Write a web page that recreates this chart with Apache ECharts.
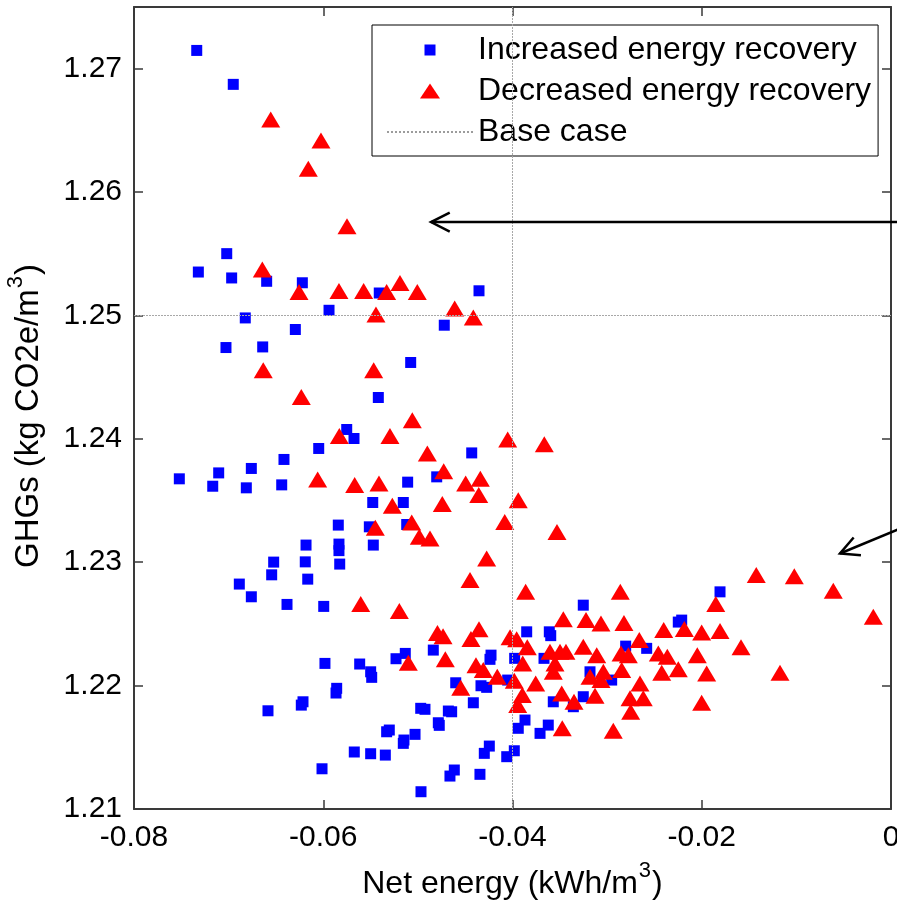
<!DOCTYPE html>
<html>
<head>
<meta charset="utf-8">
<script src="https://cdn.jsdelivr.net/npm/echarts@6/dist/echarts.min.js"></script>
<style>
  html, body { margin: 0; padding: 0; background: #fff; }
  #chart { width: 897px; height: 900px; }
</style>
</head>
<body>
<div id="chart"></div>
<script>
// Net energy (kWh/m3) vs GHGs (kg CO2e/m3) for each sensitivity run
const increasedRecovery = [
  [-0.07337,1.27148],[-0.06951,1.26873],[-0.07020,1.25501],[-0.07320,1.25352],[-0.06968,1.25304],
  [-0.06598,1.25277],[-0.06221,1.25265],[-0.05408,1.25182],[-0.04354,1.25200],[-0.05939,1.25042],
  [-0.06824,1.24980],[-0.06295,1.24886],[-0.04721,1.24921],[-0.07028,1.24740],[-0.06640,1.24745],
  [-0.05076,1.24619],[-0.05418,1.24335],[-0.05752,1.24076],[-0.05675,1.24003],[-0.06048,1.23922],
  [-0.04431,1.23886],[-0.06415,1.23833],[-0.07521,1.23676],[-0.07105,1.23724],[-0.06760,1.23760],
  [-0.07168,1.23616],[-0.06813,1.23603],[-0.06439,1.23627],[-0.05108,1.23649],[-0.04801,1.23692],
  [-0.05477,1.23484],[-0.05154,1.23484],[-0.05841,1.23301],[-0.05513,1.23287],[-0.05118,1.23306],
  [-0.06182,1.23139],[-0.05834,1.23147],[-0.05834,1.23094],[-0.05471,1.23139],[-0.06524,1.23001],
  [-0.06190,1.23003],[-0.05826,1.22985],[-0.06545,1.22898],[-0.06164,1.22863],[-0.06887,1.22823],
  [-0.06760,1.22720],[-0.06383,1.22658],[-0.05995,1.22642],[-0.05982,1.22180],[-0.05615,1.22175],
  [-0.05499,1.22112],[-0.05488,1.22067],[-0.05231,1.22218],[-0.05133,1.22261],[-0.04837,1.22288],
  [-0.05858,1.21978],[-0.05865,1.21940],[-0.06214,1.21869],[-0.06232,1.21842],[-0.06584,1.21796],
  [-0.04970,1.21816],[-0.04925,1.21808],[-0.05302,1.21640],[-0.05330,1.21626],[-0.05030,1.21605],
  [-0.05147,1.21559],[-0.05154,1.21532],[-0.05672,1.21462],[-0.05499,1.21448],[-0.05344,1.21437],
  [-0.06013,1.21326],[-0.04967,1.21140],[-0.03252,1.22652],[-0.01807,1.22760],[-0.02212,1.22531],
  [-0.02248,1.22515],[-0.03850,1.22436],[-0.03611,1.22436],[-0.03596,1.22405],[-0.04227,1.22247],
  [-0.04238,1.22213],[-0.03977,1.22221],[-0.03667,1.22221],[-0.02804,1.22320],[-0.02582,1.22302],
  [-0.04600,1.22023],[-0.04333,1.21999],[-0.04273,1.21986],[-0.04051,1.22045],[-0.03181,1.22112],
  [-0.02952,1.22045],[-0.03569,1.21869],[-0.03252,1.21910],[-0.03357,1.21829],[-0.04414,1.21861],
  [-0.04678,1.21794],[-0.04643,1.21788],[-0.04784,1.21699],[-0.04774,1.21678],[-0.03868,1.21721],
  [-0.03939,1.21654],[-0.03622,1.21680],[-0.03709,1.21613],[-0.04245,1.21510],[-0.04298,1.21451],
  [-0.03981,1.21472],[-0.04061,1.21424],[-0.04615,1.21316],[-0.04661,1.21267],[-0.04344,1.21281]
];

const decreasedRecovery = [
  [-0.06555,1.26589],[-0.06024,1.26419],[-0.06158,1.26190],[-0.05749,1.25723],[-0.06644,1.25372],
  [-0.06256,1.25190],[-0.05834,1.25199],[-0.05573,1.25199],[-0.05330,1.25190],[-0.05189,1.25263],
  [-0.05006,1.25190],[-0.05443,1.25007],[-0.04611,1.25056],[-0.04414,1.24983],[-0.06634,1.24556],
  [-0.05467,1.24556],[-0.06232,1.24340],[-0.05059,1.24151],[-0.05830,1.24024],[-0.05295,1.24024],
  [-0.04051,1.23995],[-0.03664,1.23957],[-0.04900,1.23881],[-0.04727,1.23738],[-0.04340,1.23676],
  [-0.04495,1.23638],[-0.06059,1.23671],[-0.05668,1.23625],[-0.05411,1.23638],[-0.04357,1.23544],
  [-0.03939,1.23503],[-0.04742,1.23471],[-0.05270,1.23457],[-0.05450,1.23279],[-0.05065,1.23322],
  [-0.04082,1.23327],[-0.03530,1.23246],[-0.04985,1.23206],[-0.04872,1.23193],[-0.04273,1.23031],
  [-0.04449,1.22855],[-0.05604,1.22661],[-0.05196,1.22604],[-0.03861,1.22760],[-0.02861,1.22760],
  [-0.01424,1.22896],[-0.01022,1.22887],[-0.00610,1.22768],[-0.00187,1.22558],[-0.01852,1.22661],
  [-0.03463,1.22537],[-0.03223,1.22531],[-0.03065,1.22504],[-0.02822,1.22507],[-0.02402,1.22450],
  [-0.02184,1.22458],[-0.02001,1.22431],[-0.01807,1.22442],[-0.04793,1.22426],[-0.04734,1.22401],
  [-0.04354,1.22456],[-0.04439,1.22377],[-0.04026,1.22391],[-0.03956,1.22375],[-0.03844,1.22310],
  [-0.04710,1.22213],[-0.03892,1.22180],[-0.03604,1.22274],[-0.03498,1.22274],[-0.03435,1.22274],
  [-0.03252,1.22315],[-0.03110,1.22247],[-0.02660,1.22369],[-0.02853,1.22261],[-0.02776,1.22247],
  [-0.02459,1.22261],[-0.02364,1.22234],[-0.02047,1.22247],[-0.01585,1.22310],[-0.04386,1.22166],
  [-0.04309,1.22126],[-0.03551,1.22180],[-0.03569,1.22112],[-0.04161,1.22072],[-0.03981,1.22039],
  [-0.03755,1.22018],[-0.04547,1.21983],[-0.03181,1.22072],[-0.03040,1.22112],[-0.03065,1.22045],
  [-0.02846,1.22126],[-0.02653,1.22018],[-0.02423,1.22104],[-0.02248,1.22132],[-0.01948,1.22099],
  [-0.01173,1.22104],[-0.02001,1.21861],[-0.03480,1.21937],[-0.03350,1.21869],[-0.03128,1.21918],
  [-0.03896,1.21923],[-0.03945,1.21842],[-0.02758,1.21897],[-0.02618,1.21897],[-0.02751,1.21788],
  [-0.02935,1.21634],[-0.03474,1.21654],[-0.05101,1.22185]
];

// Base case reference values
const baseCaseX = [-0.0435];
const baseCaseY = [1.2520];

// Axis ranges and ticks
const xRange = [-0.08, 0];
const xStep = 0.02;
const yRange = [1.21, 1.275];
const yStep = 0.01;

// Callout arrows: [start, tip] in data units (start lies past the right edge)
const arrowTop = [[0.0025, 1.25757], [-0.04861, 1.25757]];
const arrowRight = [[0.0020, 1.23305], [-0.00539, 1.23071]];

const FONT = '"Liberation Sans", Arial, Helvetica, sans-serif';
const AXIS_COLOR = '#3a3a3a';

// small square inside a padded box so the legend swatch stays small
const LEGEND_SQUARE = 'path://M-2,-2L-2,-2ZM0,0L11,0L11,11L0,11ZM13,13L13,13Z';
const LEGEND_TRIANGLE = 'path://M10,0L20,15L0,15Z';

const chart = echarts.init(document.getElementById('chart'), null, { renderer: 'canvas' });

function xFmt(v) {
  if (Math.abs(v) < 1e-9) return '0';
  return v.toFixed(2);
}

const baseAxis = {
  axisLine: { show: true, onZero: false, lineStyle: { color: AXIS_COLOR, width: 2 } },
  axisTick: { show: true, inside: true, length: 9, lineStyle: { color: AXIS_COLOR, width: 1.5 } },
  splitLine: { show: false }
};

// superscript exponent for the unit labels
const supStyle = { fontFamily: FONT, fontSize: 22, lineHeight: 22, color: '#000', verticalAlign: 'top', padding: [0, 1, 0, 1] };

const option = {
  backgroundColor: '#ffffff',
  animation: false,
  textStyle: { fontFamily: FONT },
  grid: { left: 134, right: 6, top: 7, bottom: 91, containLabel: false, outerBoundsMode: 'none' },
  legend: {
    orient: 'vertical',
    left: 372,
    top: 25,
    padding: [9, 7, 8, 14],
    itemWidth: 86,
    itemHeight: 15,
    itemGap: 9,
    backgroundColor: '#ffffff',
    borderColor: '#000000',
    borderWidth: 1,
    borderRadius: 0,
    textStyle: { fontFamily: FONT, fontSize: 32, color: '#000' },
    data: [
      { name: 'Increased energy recovery', icon: LEGEND_SQUARE },
      { name: 'Decreased energy recovery', icon: LEGEND_TRIANGLE },
      { name: 'Base case', itemStyle: { color: 'rgba(0,0,0,0)', borderWidth: 0 } }
    ],
    selectedMode: false
  },
  xAxis: [
    Object.assign({}, baseAxis, {
      type: 'value', position: 'bottom',
      min: xRange[0], max: xRange[1], interval: xStep,
      name: 'Net energy (kWh/m{sup|3})',
      nameLocation: 'middle', nameGap: 51,
      nameTextStyle: { fontFamily: FONT, fontSize: 32, lineHeight: 48, color: '#000', rich: { sup: supStyle } },
      axisLabel: { show: true, margin: 14, fontFamily: FONT, fontSize: 30, color: '#000', formatter: xFmt }
    }),
    Object.assign({}, baseAxis, {
      type: 'value', position: 'top',
      min: xRange[0], max: xRange[1], interval: xStep,
      axisLabel: { show: false }
    })
  ],
  yAxis: [
    Object.assign({}, baseAxis, {
      type: 'value', position: 'left',
      min: yRange[0], max: yRange[1], interval: yStep,
      name: 'GHGs (kg CO2e/m{sup|3})',
      nameLocation: 'middle', nameGap: 74,
      nameTextStyle: { fontFamily: FONT, fontSize: 33, lineHeight: 48, color: '#000', padding: [0, 16, 0, 0], rich: { sup: supStyle } },
      axisLabel: {
        show: true, margin: 12, fontFamily: FONT, fontSize: 30, color: '#000',
        showMaxLabel: false,
        formatter: function (v) { return v.toFixed(2); }
      }
    }),
    Object.assign({}, baseAxis, {
      type: 'value', position: 'right',
      min: yRange[0], max: yRange[1], interval: yStep,
      axisLabel: { show: false }
    })
  ],
  series: [
    {
      name: 'Base case',
      type: 'line',
      xAxisIndex: 0, yAxisIndex: 0,
      data: [],
      symbol: 'none',
      z: 1,
      lineStyle: { color: '#9c9c9c', width: 1, type: 'dotted' },
      itemStyle: { color: '#9c9c9c' },
      markLine: {
        silent: true,
        symbol: ['none', 'none'],
        label: { show: false },
        lineStyle: { color: '#a8a8a8', width: 1, type: [2, 1] },
        data: [
          { xAxis: baseCaseX[0] },
          { yAxis: baseCaseY[0] }
        ]
      }
    },
    {
      name: 'Increased energy recovery',
      type: 'scatter',
      xAxisIndex: 0, yAxisIndex: 0,
      symbol: 'rect',
      symbolSize: 11,
      z: 3,
      itemStyle: { color: '#0000ff', opacity: 1 },
      data: increasedRecovery
    },
    {
      name: 'Decreased energy recovery',
      type: 'scatter',
      xAxisIndex: 0, yAxisIndex: 0,
      symbol: 'triangle',
      symbolSize: [19, 16],
      z: 4,
      itemStyle: { color: '#ff0000', opacity: 1 },
      data: decreasedRecovery
    }
  ]
};

chart.setOption(option);

// Callout arrows: line plus open arrowhead, placed through the axis scales
function arrowGraphics(arrow) {
  const from = chart.convertToPixel({ xAxisIndex: 0, yAxisIndex: 0 }, arrow[0]);
  const tip = chart.convertToPixel({ xAxisIndex: 0, yAxisIndex: 0 }, arrow[1]);
  const dx = from[0] - tip[0], dy = from[1] - tip[1];
  const len = Math.sqrt(dx * dx + dy * dy);
  const ux = dx / len, uy = dy / len;
  const headLen = 21, half = 27 * Math.PI / 180;
  const rot = function (a) {
    const c = Math.cos(a), s = Math.sin(a);
    return [tip[0] + headLen * (ux * c - uy * s), tip[1] + headLen * (ux * s + uy * c)];
  };
  const style = { stroke: '#000', lineWidth: 2.5, fill: null, lineCap: 'butt', lineJoin: 'miter' };
  return [
    { type: 'line', silent: true, z: 100, shape: { x1: from[0], y1: from[1], x2: tip[0], y2: tip[1] }, style: style },
    { type: 'polyline', silent: true, z: 100, shape: { points: [rot(half), tip, rot(-half)] }, style: style }
  ];
}

chart.setOption({ graphic: { elements: arrowGraphics(arrowTop).concat(arrowGraphics(arrowRight)) } });
</script>
</body>
</html>
